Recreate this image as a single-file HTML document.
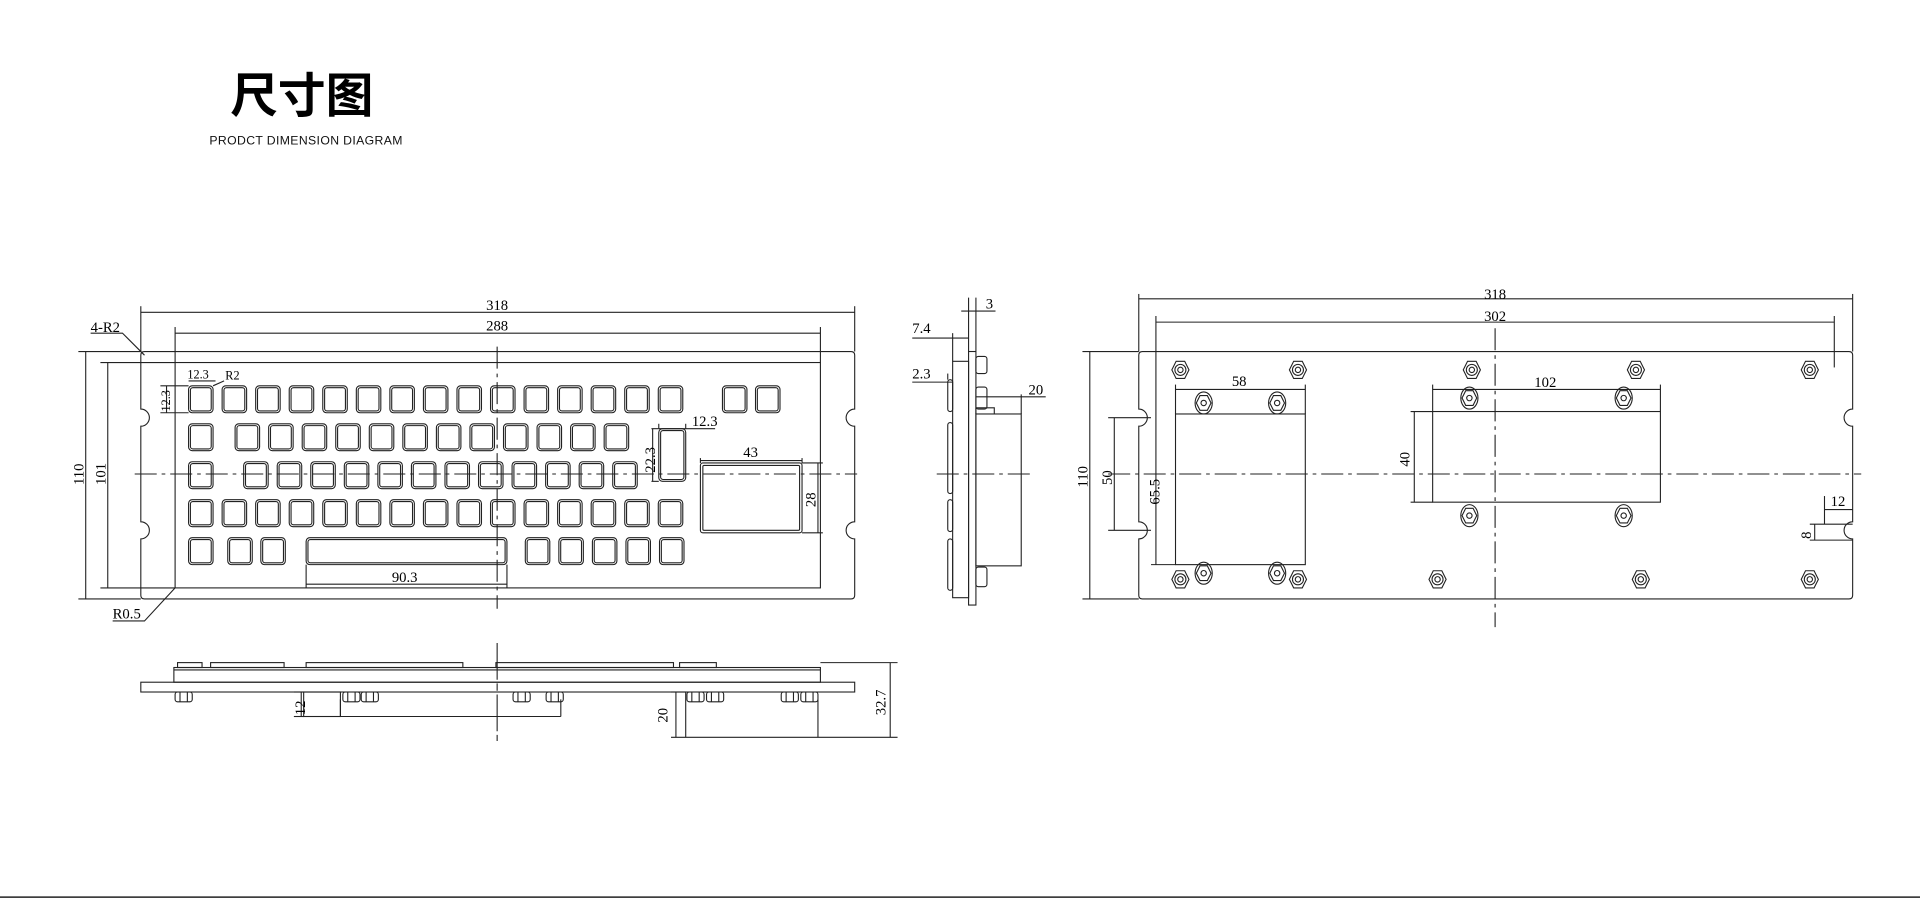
<!DOCTYPE html>
<html><head><meta charset="utf-8"><style>
html,body{margin:0;padding:0;background:#fff;width:1920px;height:899px;overflow:hidden}
svg{display:block}
.t{font-family:"Liberation Serif",serif;font-size:12px;fill:#000}
</style></head><body>
<svg width="1920" height="899" viewBox="0 0 1568 734" preserveAspectRatio="none" xmlns="http://www.w3.org/2000/svg">
<defs>
<g id="k" fill="none" stroke="#222" stroke-width="0.9"><rect width="20" height="22" rx="3"/><rect x="1.5" y="1.5" width="17" height="19" rx="2"/></g>
<g id="n" fill="none" stroke="#222" stroke-width="0.9"><polygon points="-7,0 -3.5,-7 3.5,-7 7,0 3.5,7 -3.5,7"/><circle r="4.5"/><circle r="2.2"/></g>
<g id="s" fill="none" stroke="#222" stroke-width="0.9"><ellipse rx="7" ry="9"/><polygon points="-6,0 -3,-6 3,-6 6,0 3,6 -3,6"/><circle r="2.2"/></g>
<g id="bn" fill="none" stroke="#222" stroke-width="0.9"><rect x="-7" y="0" width="14" height="8" rx="2"/><line x1="-3" y1="0" x2="-3" y2="8"/><line x1="3" y1="0" x2="3" y2="8"/></g>
</defs>
<text x="188" y="92" style="font-family:'Liberation Sans','Noto Sans CJK SC',sans-serif;font-size:39px;font-weight:bold" fill="#000">尺寸图</text>
<text x="171" y="118" style="font-family:'Liberation Sans','Noto Sans CJK SC',sans-serif;font-size:10px;letter-spacing:0.3px" fill="#111">PRODCT DIMENSION DIAGRAM</text>
<line x1="0" y1="732.5" x2="1568" y2="732.5" stroke="#222" stroke-width="1.2"/>

<g fill="none" stroke="#222" stroke-width="0.9">
<path d="M118,287 H695 Q698,287 698,290 V334 A7,7 0 0 0 698,348 V426 A7,7 0 0 0 698,440 V486 Q698,489 695,489 H118 Q115,489 115,486 V440 A7,7 0 0 0 115,426 V348 A7,7 0 0 0 115,334 V290 Q115,287 118,287 Z"/>
<rect x="143" y="296" width="527" height="184"/>
<line x1="115" y1="250" x2="115" y2="287"/><line x1="698" y1="250" x2="698" y2="287"/>
<line x1="115" y1="255" x2="698" y2="255"/>
<line x1="143" y1="267" x2="143" y2="296"/><line x1="670" y1="267" x2="670" y2="296"/>
<line x1="143" y1="272" x2="670" y2="272"/>
<line x1="64" y1="287" x2="115" y2="287"/><line x1="64" y1="489" x2="115" y2="489"/>
<line x1="70" y1="287" x2="70" y2="489"/>
<line x1="82" y1="296" x2="143" y2="296"/><line x1="82" y1="480" x2="143" y2="480"/>
<line x1="88" y1="296" x2="88" y2="480"/>
<path d="M74,272 H100 L118,290"/><path d="M92,507 H118 L143,480"/>
<line x1="154" y1="311" x2="176" y2="311"/><line x1="174" y1="315" x2="183" y2="311"/>
<line x1="131" y1="315" x2="154" y2="315"/><line x1="131" y1="337" x2="154" y2="337"/><line x1="136" y1="315" x2="136" y2="337"/>
<line x1="538" y1="350" x2="584" y2="350"/><line x1="538" y1="346" x2="538" y2="350"/><line x1="560" y1="346" x2="560" y2="350"/>
<line x1="532" y1="350" x2="538" y2="350"/><line x1="532" y1="393" x2="538" y2="393"/><line x1="533" y1="350" x2="533" y2="393"/>
<line x1="572" y1="376" x2="655" y2="376"/><line x1="572" y1="374" x2="572" y2="378"/><line x1="655" y1="374" x2="655" y2="378"/>
<line x1="655" y1="378" x2="672" y2="378"/><line x1="655" y1="435" x2="672" y2="435"/><line x1="668" y1="378" x2="668" y2="435"/>
<line x1="250" y1="461" x2="250" y2="480"/><line x1="414" y1="461" x2="414" y2="480"/><line x1="250" y1="477" x2="414" y2="477"/>
<line x1="110" y1="387" x2="700" y2="387" stroke-dasharray="18,4,3,4"/>
<line x1="406" y1="283" x2="406" y2="497" stroke-dasharray="18,4,3,4"/>
<rect x="572" y="378" width="83" height="57" rx="2"/><rect x="574" y="380" width="79" height="53" rx="1"/>
<rect x="538" y="350" width="22" height="43" rx="3"/><rect x="539.5" y="351.5" width="19" height="40" rx="2"/>
<rect x="250" y="439" width="164" height="22" rx="3"/><rect x="251.5" y="440.5" width="161" height="19" rx="2"/>
</g>
<g>
<use href="#k" x="154" y="315"/><use href="#k" x="181.4" y="315"/><use href="#k" x="208.8" y="315"/><use href="#k" x="236.2" y="315"/><use href="#k" x="263.6" y="315"/><use href="#k" x="291" y="315"/><use href="#k" x="318.4" y="315"/><use href="#k" x="345.8" y="315"/><use href="#k" x="373.2" y="315"/><use href="#k" x="400.6" y="315"/><use href="#k" x="428" y="315"/><use href="#k" x="455.4" y="315"/><use href="#k" x="482.8" y="315"/><use href="#k" x="510.2" y="315"/><use href="#k" x="537.6" y="315"/><use href="#k" x="590" y="315"/><use href="#k" x="617" y="315"/>
<use href="#k" x="154" y="346"/><use href="#k" x="192" y="346"/><use href="#k" x="219.4" y="346"/><use href="#k" x="246.8" y="346"/><use href="#k" x="274.2" y="346"/><use href="#k" x="301.6" y="346"/><use href="#k" x="329" y="346"/><use href="#k" x="356.4" y="346"/><use href="#k" x="383.8" y="346"/><use href="#k" x="411.2" y="346"/><use href="#k" x="438.6" y="346"/><use href="#k" x="466" y="346"/><use href="#k" x="493.4" y="346"/>
<use href="#k" x="154" y="377"/><use href="#k" x="199" y="377"/><use href="#k" x="226.4" y="377"/><use href="#k" x="253.8" y="377"/><use href="#k" x="281.2" y="377"/><use href="#k" x="308.6" y="377"/><use href="#k" x="336" y="377"/><use href="#k" x="363.4" y="377"/><use href="#k" x="390.8" y="377"/><use href="#k" x="418.2" y="377"/><use href="#k" x="445.6" y="377"/><use href="#k" x="473" y="377"/><use href="#k" x="500.4" y="377"/>
<use href="#k" x="154" y="408"/><use href="#k" x="181.4" y="408"/><use href="#k" x="208.8" y="408"/><use href="#k" x="236.2" y="408"/><use href="#k" x="263.6" y="408"/><use href="#k" x="291" y="408"/><use href="#k" x="318.4" y="408"/><use href="#k" x="345.8" y="408"/><use href="#k" x="373.2" y="408"/><use href="#k" x="400.6" y="408"/><use href="#k" x="428" y="408"/><use href="#k" x="455.4" y="408"/><use href="#k" x="482.8" y="408"/><use href="#k" x="510.2" y="408"/><use href="#k" x="537.6" y="408"/>
<use href="#k" x="154" y="439"/><use href="#k" x="186" y="439"/><use href="#k" x="213" y="439"/><use href="#k" x="429" y="439"/><use href="#k" x="456.4" y="439"/><use href="#k" x="483.8" y="439"/><use href="#k" x="511.2" y="439"/><use href="#k" x="538.6" y="439"/>
</g>
<text class="t" x="397" y="253">318</text>
<text class="t" x="397" y="270">288</text>
<text class="t" x="74" y="271">4-R2</text>
<text class="t" x="92" y="505">R0.5</text>
<text class="t" x="153" y="309" style="font-size:10px">12.3</text>
<text class="t" x="184" y="310" style="font-size:10px">R2</text>
<text class="t" transform="translate(139,336) rotate(-90)" style="font-size:10px">12.3</text>
<text class="t" x="565" y="348">12.3</text>
<text class="t" transform="translate(535,386) rotate(-90)">22.3</text>
<text class="t" x="607" y="373">43</text>
<text class="t" transform="translate(666,414) rotate(-90)">28</text>
<text class="t" x="320" y="475">90.3</text>
<text class="t" transform="translate(68,396) rotate(-90)">110</text>
<text class="t" transform="translate(86,396) rotate(-90)">101</text>

<g fill="none" stroke="#222" stroke-width="0.9">
<rect x="791" y="287" width="6" height="207"/>
<rect x="778" y="295" width="13" height="193"/>
<rect x="774" y="310" width="4" height="26" rx="2"/><rect x="774" y="345" width="4" height="58" rx="2"/><rect x="774" y="408" width="4" height="26" rx="2"/><rect x="774" y="440" width="4" height="42" rx="2"/>
<rect x="797" y="338" width="37" height="124"/>
<path d="M797,338 V333 H812 V338"/>
<rect x="797" y="291" width="9" height="14" rx="2"/><rect x="797" y="316" width="9" height="18" rx="2"/><rect x="797" y="463" width="9" height="16" rx="2"/>
<line x1="791" y1="243" x2="791" y2="287"/><line x1="797" y1="243" x2="797" y2="287"/>
<line x1="785" y1="254" x2="813" y2="254"/>
<line x1="778" y1="272" x2="778" y2="295"/>
<line x1="745" y1="276" x2="791" y2="276"/>
<line x1="774" y1="305" x2="774" y2="310"/>
<line x1="745" y1="312" x2="778" y2="312"/>
<line x1="834" y1="322" x2="834" y2="338"/>
<line x1="797" y1="324" x2="854" y2="324"/>
<line x1="765" y1="387" x2="845" y2="387" stroke-dasharray="18,4,3,4"/>
</g>
<text class="t" x="805" y="252">3</text>
<text class="t" x="745" y="272">7.4</text>
<text class="t" x="745" y="309">2.3</text>
<text class="t" x="840" y="322">20</text>

<g fill="none" stroke="#222" stroke-width="0.9">
<path d="M933,287 H1510 Q1513,287 1513,290 V334 A7,7 0 0 0 1513,348 V426 A7,7 0 0 0 1513,440 V486 Q1513,489 1510,489 H933 Q930,489 930,486 V440 A7,7 0 0 0 930,426 V348 A7,7 0 0 0 930,334 V290 Q930,287 933,287 Z"/>
<line x1="930" y1="240" x2="930" y2="287"/><line x1="1513" y1="240" x2="1513" y2="287"/>
<line x1="930" y1="244" x2="1513" y2="244"/>
<line x1="944" y1="258" x2="944" y2="461"/><line x1="1498" y1="258" x2="1498" y2="300"/>
<line x1="944" y1="263" x2="1498" y2="263"/>
<line x1="884" y1="287" x2="930" y2="287"/><line x1="884" y1="489" x2="930" y2="489"/>
<line x1="890" y1="287" x2="890" y2="489"/>
<line x1="905" y1="341" x2="940" y2="341"/><line x1="905" y1="433" x2="940" y2="433"/>
<line x1="910" y1="341" x2="910" y2="433"/>
<line x1="940" y1="461" x2="960" y2="461"/>
<rect x="960" y="338" width="106" height="123"/>
<line x1="960" y1="314" x2="960" y2="338"/><line x1="1066" y1="314" x2="1066" y2="338"/>
<line x1="960" y1="318" x2="1066" y2="318"/>
<rect x="1170" y="336" width="186" height="74"/>
<line x1="1170" y1="314" x2="1170" y2="336"/><line x1="1356" y1="314" x2="1356" y2="336"/>
<line x1="1170" y1="318" x2="1356" y2="318"/>
<line x1="1152" y1="336" x2="1170" y2="336"/><line x1="1152" y1="410" x2="1170" y2="410"/>
<line x1="1155" y1="336" x2="1155" y2="410"/>
<line x1="1490" y1="405" x2="1490" y2="428"/><line x1="1490" y1="416" x2="1513" y2="416"/>
<line x1="1478" y1="428" x2="1513" y2="428"/><line x1="1478" y1="441" x2="1513" y2="441"/><line x1="1482" y1="428" x2="1482" y2="441"/>
<line x1="905" y1="387" x2="1520" y2="387" stroke-dasharray="18,4,3,4"/>
<line x1="1221" y1="268" x2="1221" y2="512" stroke-dasharray="18,4,3,4"/>
</g>
<g>
<use href="#n" x="964" y="302"/><use href="#n" x="1060" y="302"/><use href="#n" x="1202" y="302"/><use href="#n" x="1336" y="302"/><use href="#n" x="1478" y="302"/>
<use href="#n" x="964" y="473"/><use href="#n" x="1060" y="473"/><use href="#n" x="1174" y="473"/><use href="#n" x="1340" y="473"/><use href="#n" x="1478" y="473"/>
<use href="#s" x="983" y="329"/><use href="#s" x="1043" y="329"/><use href="#s" x="983" y="468"/><use href="#s" x="1043" y="468"/>
<use href="#s" x="1200" y="325"/><use href="#s" x="1326" y="325"/><use href="#s" x="1200" y="421"/><use href="#s" x="1326" y="421"/>
</g>
<text class="t" x="1212" y="244">318</text>
<text class="t" x="1212" y="262">302</text>
<text class="t" x="1006" y="315">58</text>
<text class="t" x="1253" y="316">102</text>
<text class="t" transform="translate(1151,381) rotate(-90)">40</text>
<text class="t" transform="translate(888,398) rotate(-90)">110</text>
<text class="t" transform="translate(908,396) rotate(-90)">50</text>
<text class="t" transform="translate(947,412) rotate(-90)">65.5</text>
<text class="t" x="1495" y="413">12</text>
<text class="t" transform="translate(1479,440) rotate(-90)">8</text>

<g fill="none" stroke="#222" stroke-width="0.9">
<rect x="115" y="557" width="583" height="8"/>
<rect x="142" y="545" width="528" height="12"/>
<line x1="142" y1="547" x2="670" y2="547"/>
<rect x="145" y="541" width="20" height="4"/><rect x="172" y="541" width="60" height="4"/><rect x="250" y="541" width="128" height="4"/><rect x="405" y="541" width="145" height="4"/><rect x="555" y="541" width="30" height="4"/>
<line x1="670" y1="541" x2="733" y2="541"/>
<line x1="406" y1="525" x2="406" y2="605" stroke-dasharray="30,3,6,3"/>
<rect x="248" y="565" width="30" height="20"/><line x1="248" y1="585" x2="458" y2="585"/><line x1="458" y1="571" x2="458" y2="585"/><line x1="278" y1="571" x2="278" y2="585"/>
<line x1="240" y1="565" x2="248" y2="565"/><line x1="240" y1="585" x2="248" y2="585"/><line x1="246" y1="565" x2="246" y2="585"/>
<line x1="548" y1="565" x2="560" y2="565"/><line x1="560" y1="565" x2="560" y2="602"/><line x1="668" y1="571" x2="668" y2="602"/><line x1="548" y1="602" x2="733" y2="602"/><line x1="552" y1="565" x2="552" y2="602"/>
<line x1="727" y1="541" x2="727" y2="602"/>
</g>
<g>
<use href="#bn" x="150" y="565"/><use href="#bn" x="287" y="565"/><use href="#bn" x="302" y="565"/><use href="#bn" x="426" y="565"/><use href="#bn" x="453" y="565"/>
<use href="#bn" x="568" y="565"/><use href="#bn" x="584" y="565"/><use href="#bn" x="645" y="565"/><use href="#bn" x="661" y="565"/>
</g>
<text class="t" transform="translate(249,584) rotate(-90)">12</text>
<text class="t" transform="translate(545,590) rotate(-90)">20</text>
<text class="t" transform="translate(723,584) rotate(-90)">32.7</text>
</svg>
</body></html>
